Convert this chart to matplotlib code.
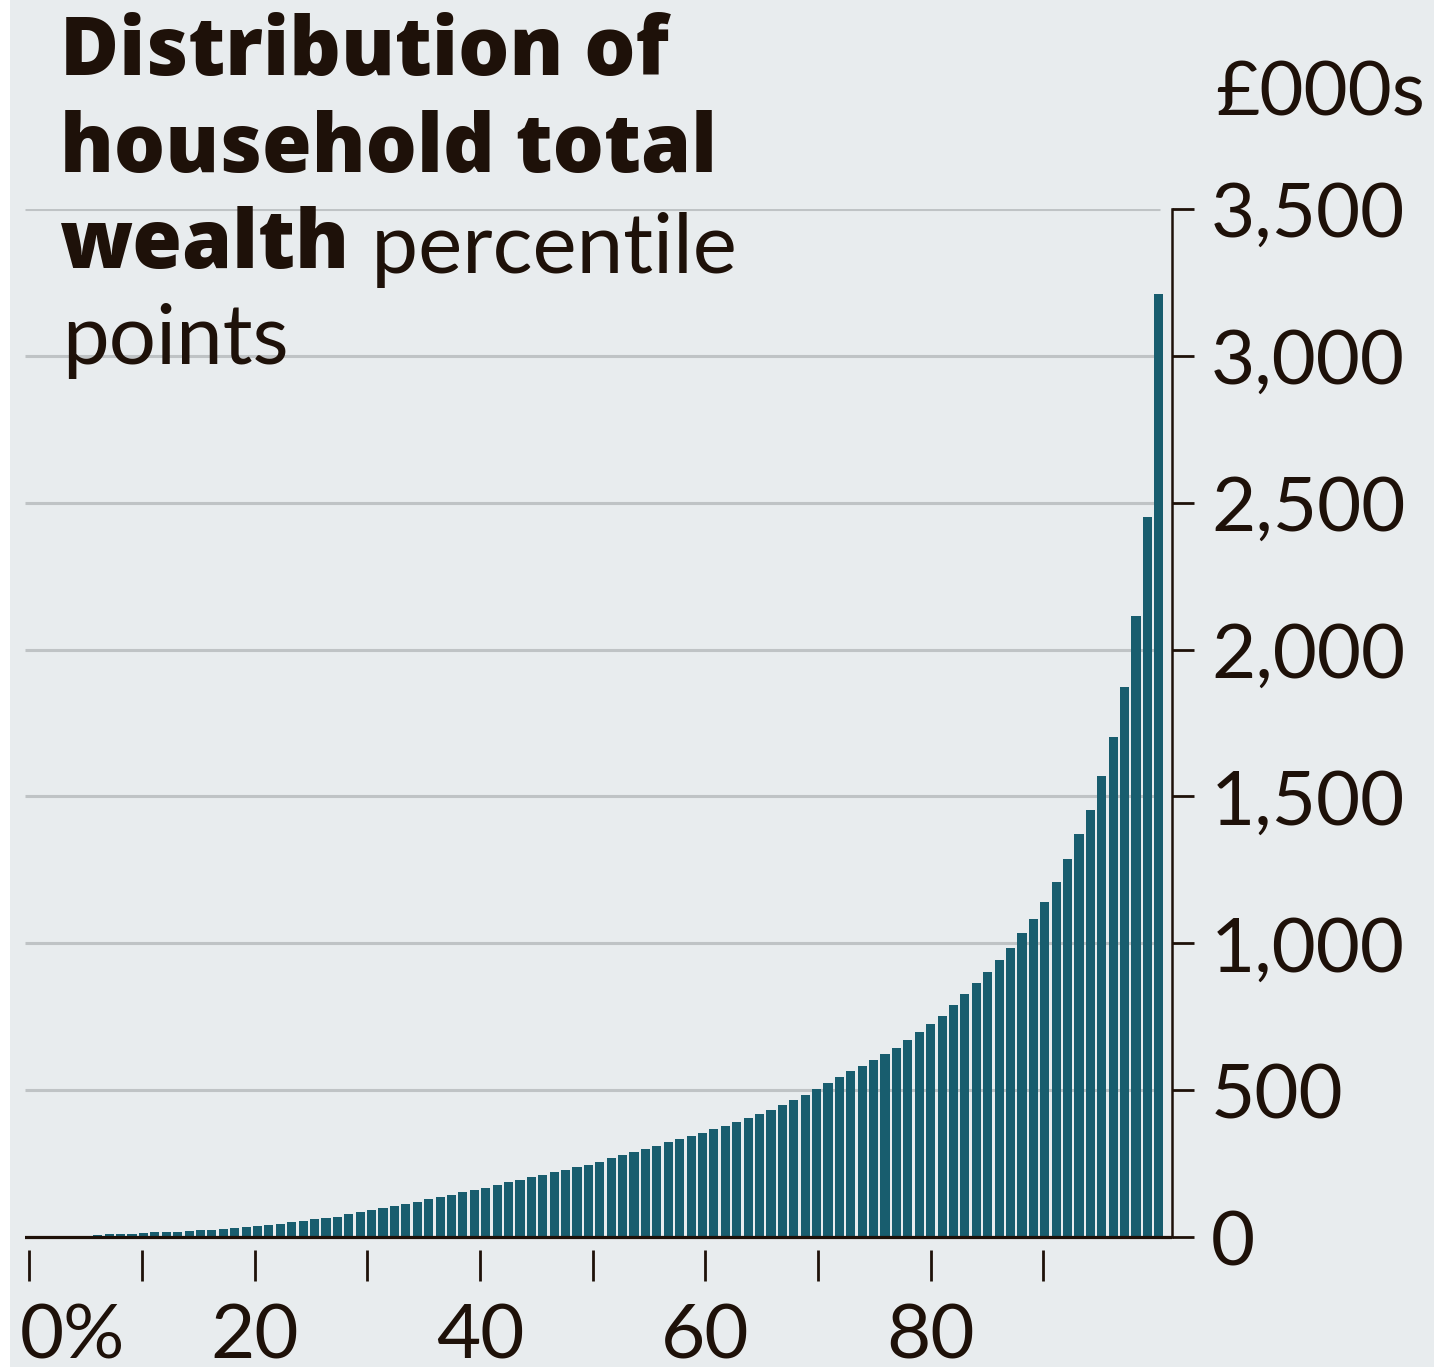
import numpy as np
import matplotlib.pyplot as plt
from matplotlib.patches import Rectangle
from matplotlib.transforms import ScaledTranslation

# household total wealth by percentile point, £000s
percentile = np.arange(1, 100)
wealth = [
    -4, 0, 1, 2, 5, 7, 9, 10, 12, 14,
    16, 17, 18, 20, 23, 25, 28, 32, 35, 38,
    42, 45, 50, 54, 60, 65, 70, 77, 85, 92,
    98, 106, 113, 121, 128, 135, 143, 152, 160, 168,
    176, 186, 194, 203, 211, 220, 228, 237, 247, 257,
    268, 279, 289, 299, 311, 322, 333, 344, 356, 368,
    379, 391, 405, 419, 434, 449, 466, 484, 504, 526,
    545, 565, 581, 602, 624, 645, 670, 697, 726, 754,
    791, 827, 866, 903, 943, 985, 1034, 1084, 1142, 1209,
    1286, 1371, 1455, 1571, 1701, 1872, 2114, 2452, 3210,
]

y_ticks = [0, 500, 1000, 1500, 2000, 2500, 3000, 3500]
y_labels = ["0", "500", "1,000", "1,500", "2,000", "2,500", "3,000", "3,500"]
x_pct = np.arange(0, 100, 10)
x_labels = ["0%", "", "20", "", "40", "", "60", "", "80", ""]

BG = "#e8ecee"
BAR = "#185d6e"
INK = "#1e1109"
GRID = "#bfc3c5"

plt.rcParams["font.family"] = ["Lato", "DejaVu Sans"]
BOLD = ["Open Sans", "Lato", "DejaVu Sans"]

W, H = 1434, 1367
fig = plt.figure(figsize=(W / 100, H / 100), dpi=100)
fig.patch.set_facecolor("white")
fig.patches.append(Rectangle((10 / W, 0), 1, 1, transform=fig.transFigure,
                             facecolor=BG, edgecolor="none", zorder=-10))

# axes box in pixels: left 25, right 1172, top 209, bottom 1250
ax = fig.add_axes([25 / W, (H - 1250) / H, 1147 / W, (1250 - 209) / H])
ax.set_facecolor("none")

ax.bar(percentile, wealth, width=0.8, color=BAR, zorder=2)

ax.set_xlim(-0.38, 100.15)
ax.set_ylim(-44, 3500)

# gridlines stop short of the right-hand axis
ax.hlines(y_ticks[1:], -0.38, 99.1, color=GRID, lw=2.2, zorder=1)
ax.axhline(0, color=INK, lw=2.3, zorder=3)

for s in ["top", "left", "bottom"]:
    ax.spines[s].set_visible(False)
ax.spines["right"].set_bounds(0, 3500)
ax.spines["right"].set_color(INK)
ax.spines["right"].set_linewidth(1.8)

ax.yaxis.tick_right()
ax.set_yticks(y_ticks)
ax.set_yticklabels(y_labels)
ax.tick_params(axis="y", length=16, width=2.0, color=INK, pad=12,
               labelsize=55, labelcolor=INK)

# the percent ruler runs slightly shorter than the bars
tick_scale = 0.9875
ax.set_xticks(x_pct * tick_scale)
ax.set_xticklabels(x_labels)
ax.tick_params(axis="x", length=22, width=2.0, color=INK, pad=16,
               labelsize=55, labelcolor=INK)
lab0 = ax.get_xticklabels()[0]
lab0.set_horizontalalignment("left")
lab0.set_transform(lab0.get_transform() + ScaledTranslation(-0.10, 0, fig.dpi_scale_trans))

fig.text(1215 / W, 1 - 115 / H, "£000s", fontsize=55, color=INK, va="baseline")

# title
tsize = 60
bsize = 58
fig.text(60 / W, 1 - 75 / H, "Distribution of", fontsize=bsize, fontweight="heavy",
         family=BOLD, color=INK, va="baseline")
fig.text(60 / W, 1 - 172 / H, "household total", fontsize=bsize, fontweight="heavy",
         family=BOLD, color=INK, va="baseline")
t3 = fig.text(60 / W, 1 - 268 / H, "wealth", fontsize=bsize, fontweight="heavy",
              family=BOLD, color=INK, va="baseline")
fig.text(62 / W, 1 - 364 / H, "points", fontsize=tsize, color=INK, va="baseline")
ax.annotate(" percentile", xy=(1, 0), xycoords=t3, va="bottom", ha="left",
            fontsize=tsize, color=INK, annotation_clip=False)

fig.savefig("out.png", dpi=100, facecolor=fig.get_facecolor())
